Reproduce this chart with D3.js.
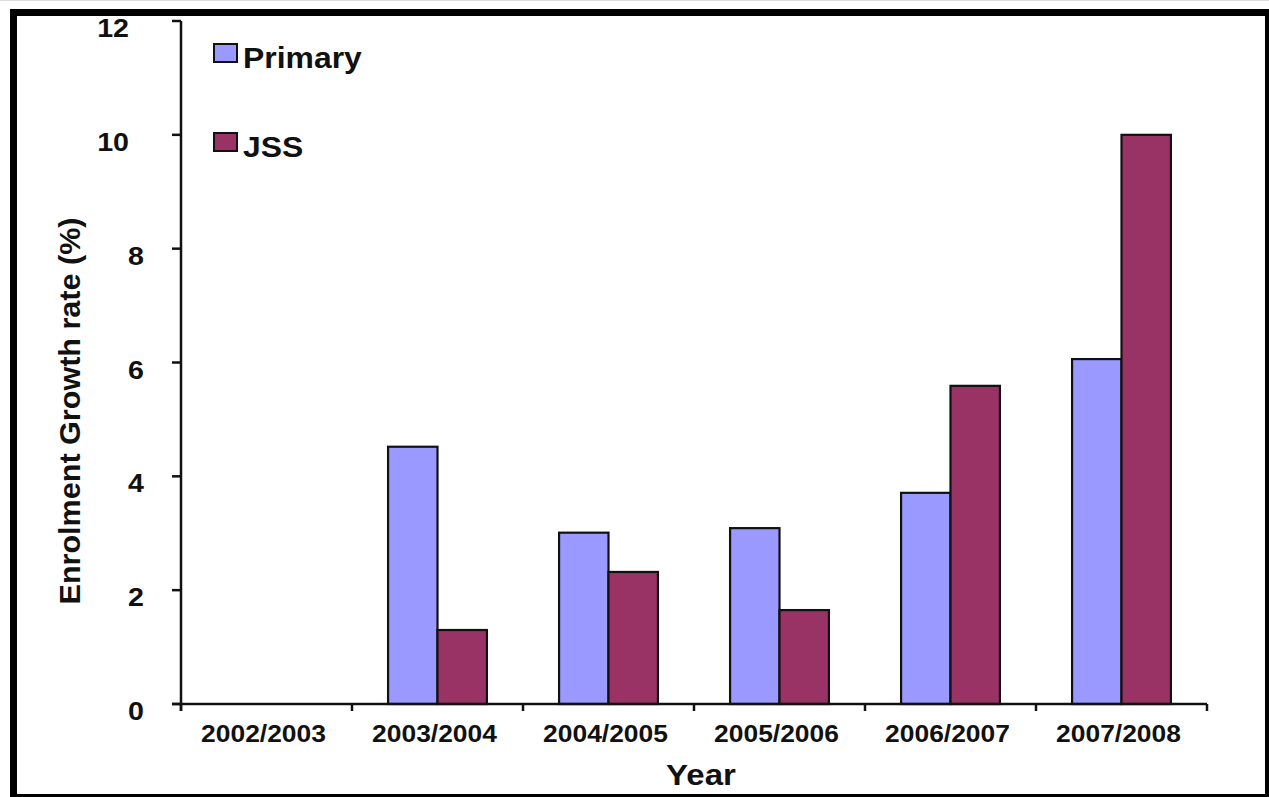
<!DOCTYPE html>
<html>
<head>
<meta charset="utf-8">
<script src="https://cdn.jsdelivr.net/npm/d3@7"></script>
<style>
  body { margin: 0; background: #fff; }
  text { font-family: "Liberation Sans", Arial, sans-serif; font-weight: bold; fill: #111; }
</style>
</head>
<body>
<svg id="chart" width="1269" height="797"></svg>
<script>
const years = ["2002/2003", "2003/2004", "2004/2005", "2005/2006", "2006/2007", "2007/2008"];
const series = ["Primary", "JSS"];
const primary = [0, 4.52, 3.01, 3.09, 3.71, 6.06];
const jss = [0, 1.3, 2.32, 1.65, 5.59, 10];
const yTicks = [0, 2, 4, 6, 8, 10, 12];
const colors = ["#9999ff", "#993366"];

const svg = d3.select("#chart");
const stretch = 1.1; // text in the picture is a bit wide

// frame
svg.append("rect").attr("x", 10).attr("y", 9).attr("width", 1259).attr("height", 7).attr("fill", "#000");
svg.append("rect").attr("x", 10).attr("y", 9).attr("width", 7).attr("height", 788).attr("fill", "#000");
svg.append("rect").attr("x", 1265).attr("y", 9).attr("width", 4).attr("height", 788).attr("fill", "#000");
svg.append("rect").attr("x", 10).attr("y", 794).attr("width", 1259).attr("height", 3).attr("fill", "#000");
svg.append("rect").attr("x", 0).attr("y", 0).attr("width", 1269).attr("height", 1).attr("fill", "#ddd");

// scales
const x = d3.scaleBand().domain(years).range([181, 1207]).padding(0);
const xs = d3.scaleBand().domain(series).range([0, x.bandwidth()]).paddingInner(0).paddingOuter(0.73);
const y = d3.scaleLinear().domain([0, 12]).range([704, 21]);

const stretchText = sel => sel.each(function() {
  this.setAttribute("textLength", this.getComputedTextLength() * stretch);
  this.setAttribute("lengthAdjust", "spacingAndGlyphs");
});

// bars
const rows = years.map((yr, i) => ({ year: yr, values: [primary[i], jss[i]] }));
svg.append("g")
  .selectAll("g")
  .data(rows)
  .join("g")
  .attr("transform", d => `translate(${x(d.year)},0)`)
  .selectAll("rect")
  .data(d => d.values.map((v, k) => ({ key: series[k], v, k })).filter(e => e.v > 0))
  .join("rect")
  .attr("x", d => xs(d.key))
  .attr("width", xs.bandwidth())
  .attr("y", d => y(d.v))
  .attr("height", d => y(0) - y(d.v))
  .attr("fill", d => colors[d.k])
  .attr("stroke", "#111")
  .attr("stroke-width", 2.2);

// y axis
const axis = svg.append("g").attr("stroke", "#111").attr("stroke-width", 2.5);
axis.append("line").attr("x1", 181).attr("x2", 181).attr("y1", y(12)).attr("y2", y(0) + 7);
axis.selectAll("line.yt")
  .data(yTicks)
  .join("line")
  .attr("class", "yt")
  .attr("x1", 172).attr("x2", 181)
  .attr("y1", d => y(d)).attr("y2", d => y(d));

svg.append("g")
  .selectAll("text")
  .data(yTicks)
  .join("text")
  .attr("x", d => 144 - (String(d).length - 1) * 15)
  .attr("y", d => y(d) + 16)
  .attr("text-anchor", "end")
  .attr("font-size", 26)
  .text(d => d)
  .call(stretchText);

// x axis
axis.append("line").attr("x1", 172).attr("x2", 1207).attr("y1", y(0)).attr("y2", y(0));
const bounds = years.map(d => x(d)).concat([x.range()[1]]);
axis.selectAll("line.xt")
  .data(bounds)
  .join("line")
  .attr("class", "xt")
  .attr("x1", d => d).attr("x2", d => d)
  .attr("y1", y(0)).attr("y2", y(0) + 7);

svg.append("g")
  .selectAll("text")
  .data(years)
  .join("text")
  .attr("x", d => x(d) + x.bandwidth() / 2 - 3)
  .attr("y", 742)
  .attr("text-anchor", "middle")
  .attr("font-size", 24)
  .text(d => d)
  .call(stretchText);

// axis titles
svg.append("text")
  .attr("x", 701).attr("y", 785)
  .attr("text-anchor", "middle")
  .attr("font-size", 30)
  .text("Year")
  .call(stretchText);

svg.append("text")
  .attr("transform", "translate(80,411) rotate(-90)")
  .attr("text-anchor", "middle")
  .attr("font-size", 29)
  .attr("textLength", 387)
  .attr("lengthAdjust", "spacingAndGlyphs")
  .text("Enrolment Growth rate (%)");

// legend
const legendY = [44, 133];
const legend = svg.append("g")
  .selectAll("g")
  .data(series)
  .join("g")
  .attr("transform", (d, i) => `translate(214,${legendY[i]})`);
legend.append("rect")
  .attr("width", 23).attr("height", 18)
  .attr("fill", (d, i) => colors[i])
  .attr("stroke", "#111").attr("stroke-width", 2);
legend.append("text")
  .attr("x", 29).attr("y", 24)
  .attr("font-size", 29)
  .text(d => d)
  .call(stretchText);
</script>
</body>
</html>
